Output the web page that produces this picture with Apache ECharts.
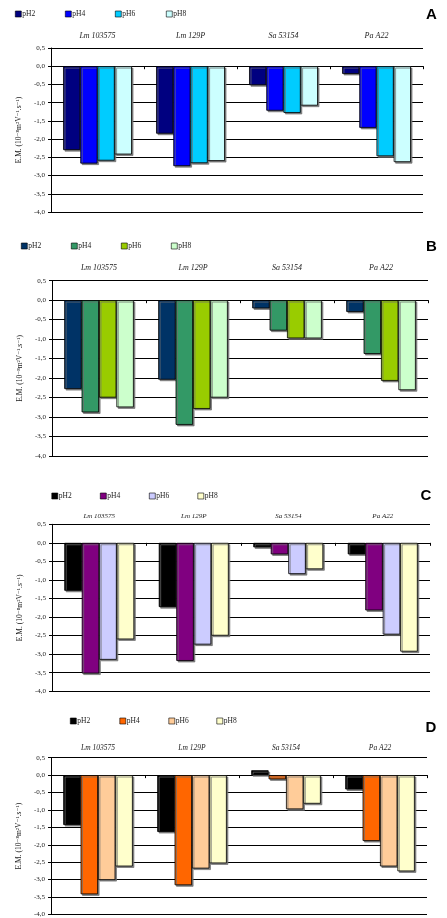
<!DOCTYPE html>
<html>
<head>
<meta charset="utf-8">
<script src="https://cdn.jsdelivr.net/npm/echarts@6/dist/echarts.min.js"></script>
<style>
html,body{margin:0;padding:0;background:#fff;}
#chart{width:447px;height:918px;}
</style>
</head>
<body>
<div id="chart"></div>
<script>
// ---- data ----
const categories = ['Lm 103575', 'Lm 129P', 'Sa 53154', 'Pa A22'];
const phLevels = ['pH2', 'pH4', 'pH6', 'pH8'];
const yTicks = [0.5, 0.0, -0.5, -1.0, -1.5, -2.0, -2.5, -3.0, -3.5, -4.0];
const yAxisTitle = 'E.M. (10\u207B\u2078m\u00B2V\u207B\u00B9.s\u207B\u00B9)';

// Panel A
const A_pH2 = [-2.30, -1.85, -0.52, -0.21];
const A_pH4 = [-2.67, -2.74, -1.22, -1.69];
const A_pH6 = [-2.59, -2.66, -1.28, -2.47];
const A_pH8 = [-2.42, -2.60, -1.08, -2.63];
// Panel B
const B_pH2 = [-2.28, -2.04, -0.21, -0.30];
const B_pH4 = [-2.88, -3.20, -0.78, -1.38];
const B_pH6 = [-2.50, -2.79, -0.98, -2.07];
const B_pH8 = [-2.75, -2.50, -0.98, -2.31];
// Panel C
const C_pH2 = [-1.29, -1.73, -0.12, -0.31];
const C_pH4 = [-3.52, -3.18, -0.31, -1.82];
const C_pH6 = [-3.15, -2.74, -0.84, -2.47];
const C_pH8 = [-2.60, -2.50, -0.71, -2.93];
// Panel D
const D_pH2 = [-1.43, -1.63, 0.14, -0.41];
const D_pH4 = [-3.42, -3.16, -0.12, -1.89];
const D_pH6 = [-3.01, -2.68, -0.98, -2.62];
const D_pH8 = [-2.62, -2.53, -0.82, -2.76];

// ---- styling / layout ----
const panels = [
  { letter: 'A', values: [A_pH2, A_pH4, A_pH6, A_pH8],
    colors: ['#000080', '#0000FF', '#00CCFF', '#CCFFFF'],
    grid: { left: 51, top: 48, width: 372, height: 164 },
    legendX: [15, 65, 115, 166], legendY: 14, letterPos: [431.5, 14.5], catMargin: 8, catFont: 8 },
  { letter: 'B', values: [B_pH2, B_pH4, B_pH6, B_pH8],
    colors: ['#003366', '#339966', '#99CC00', '#CCFFCC'],
    grid: { left: 52, top: 280.7, width: 376, height: 175.3 },
    legendX: [21, 71, 121, 171], legendY: 246, letterPos: [431.5, 247], catMargin: 8.5, catFont: 8 },
  { letter: 'C', values: [C_pH2, C_pH4, C_pH6, C_pH8],
    colors: ['#000000', '#800080', '#CCCCFF', '#FFFFCC'],
    grid: { left: 52, top: 524.3, width: 378, height: 167 },
    legendX: [51.5, 100, 149, 197.5], legendY: 496, letterPos: [426, 496], catMargin: 5, catFont: 7 },
  { letter: 'D', values: [D_pH2, D_pH4, D_pH6, D_pH8],
    colors: ['#000000', '#FF6600', '#FFCC99', '#FFFFCC'],
    grid: { left: 51, top: 757.7, width: 376, height: 159.3 },
    legendX: [70, 119.5, 168.5, 216.5], legendY: 721, letterPos: [431, 728], catMargin: 6, catFont: 7.5 }
];

const serif = '"Liberation Serif", "DejaVu Serif", serif';
const grids = [], xAxes = [], yAxes = [], series = [], legends = [], graphics = [];

panels.forEach((p, i) => {
  grids.push(Object.assign({ containLabel: false }, p.grid));
  // zero-line axis with boundary ticks (carries the bars)
  xAxes.push({
    type: 'category', gridIndex: i, data: categories, position: 'bottom',
    axisLine: { show: true, onZero: true, onZeroAxisIndex: i, lineStyle: { color: '#000', width: 1 } },
    axisTick: { show: true, length: 3, lineStyle: { color: '#000', width: 1 } },
    axisLabel: { show: false }, splitLine: { show: false }
  });
  // top axis for category names
  xAxes.push({
    type: 'category', gridIndex: i, data: categories, position: 'top',
    axisLine: { show: false, onZero: false }, axisTick: { show: false },
    axisLabel: { show: true, fontFamily: serif, fontStyle: 'italic', fontSize: p.catFont, color: '#222', margin: p.catMargin },
    splitLine: { show: false }
  });
  yAxes.push({
    type: 'value', gridIndex: i, min: -4, max: 0.5, interval: 0.5,
    name: yAxisTitle, nameLocation: 'middle', nameGap: 22, nameRotate: 90,
    nameTextStyle: { fontFamily: serif, fontSize: 7.5, color: '#222' },
    axisLine: { show: true, onZero: false, lineStyle: { color: '#000', width: 1 } },
    axisTick: { show: true, length: 3, lineStyle: { color: '#000' } },
    axisLabel: { fontFamily: serif, fontSize: 7, color: '#222', margin: 6,
      formatter: v => v.toFixed(1).replace('.', ',') },
    splitLine: { show: true, lineStyle: { color: '#000', width: 1 } }
  });
  phLevels.forEach((ph, k) => {
    const name = p.letter + '|' + ph;
    series.push({
      type: 'bar', name: name, xAxisIndex: i * 2, yAxisIndex: i,
      data: p.values[k], barGap: '0%', barCategoryGap: '26%',
      itemStyle: { color: p.colors[k], borderColor: '#000', borderWidth: 0.8,
        shadowColor: 'rgba(110,110,110,0.9)', shadowBlur: 0, shadowOffsetX: 1.5, shadowOffsetY: 1.5 },
      emphasis: { disabled: true }, animation: false
    });
    legends.push({
      data: [name], left: p.legendX[k], top: p.legendY - 4,
      itemWidth: 6, itemHeight: 6, itemGap: 0, padding: 0,
      icon: 'rect', selectedMode: false,
      itemStyle: { borderColor: '#000', borderWidth: 0.6, shadowBlur: 0, shadowOffsetX: 0, shadowOffsetY: 0, shadowColor: 'transparent' },
      formatter: n => n.split('|')[1],
      textStyle: { fontFamily: serif, fontSize: 7.5, color: '#222', padding: [0, 0, 0, -4] }
    });
  });
  graphics.push({
    type: 'text', x: p.letterPos[0], y: p.letterPos[1],
    style: { text: p.letter, font: 'bold 15px "Liberation Sans", Arial, sans-serif',
      fill: '#000', textAlign: 'center', textVerticalAlign: 'middle' }
  });
});

const chart = echarts.init(document.getElementById('chart'), null, { renderer: 'canvas' });
chart.setOption({
  animation: false,
  backgroundColor: '#fff',
  grid: grids, xAxis: xAxes, yAxis: yAxes, series: series,
  legend: legends, graphic: graphics
});
</script>
</body>
</html>
